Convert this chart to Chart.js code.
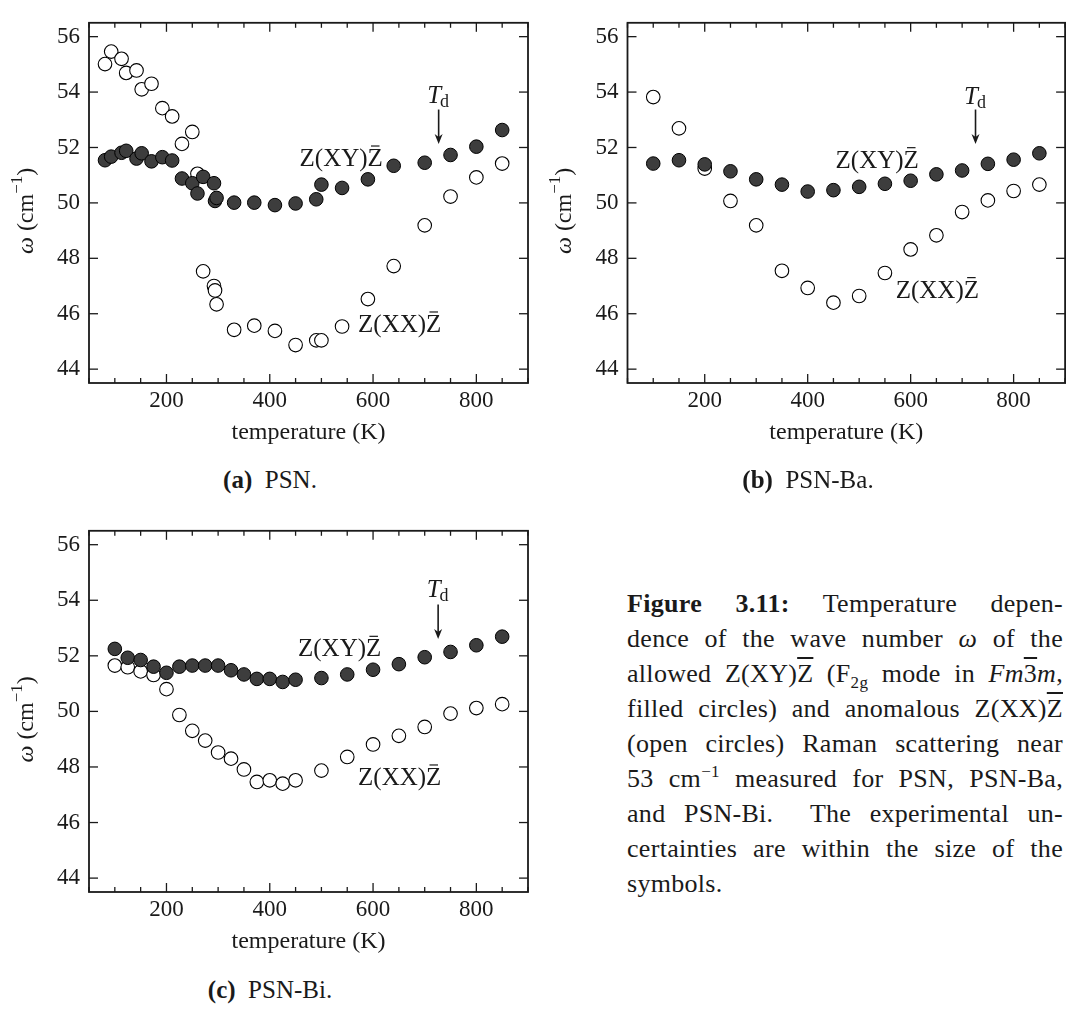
<!DOCTYPE html>
<html>
<head>
<meta charset="utf-8">
<script src="https://cdn.jsdelivr.net/npm/chart.js@4.4.1/dist/chart.umd.min.js"></script>
<style>
  html, body { margin: 0; padding: 0; background: #fff; }
  body { width: 1073px; height: 1009px; position: relative; overflow: hidden; font-family: "Liberation Serif", serif; color: #1a1a1a; }
  canvas { position: absolute; }
  .sub { position: absolute; width: 540px; text-align: center; font-size: 25px; line-height: 30px; }
  #caption { position: absolute; left: 627px; top: 586px; width: 436px; font-size: 26px; letter-spacing: 0.3px; }
  #caption .ln { height: 35px; line-height: 35px; text-align: justify; text-align-last: justify; white-space: nowrap; }
  #caption .last { text-align-last: left; }
  .ov { text-decoration: overline; }
  sub, sup { font-size: 17px; line-height: 0; }
</style>
</head>
<body>
<canvas id="chartA" width="540" height="465" style="left:0;top:0;width:540px;height:465px"></canvas>
<canvas id="chartB" width="535" height="465" style="left:538px;top:0;width:535px;height:465px"></canvas>
<canvas id="chartC" width="540" height="466" style="left:0;top:508px;width:540px;height:466px"></canvas>

<div class="sub" style="left:0;top:465px"><b>(a)</b>&nbsp; PSN.</div>
<div class="sub" style="left:538px;top:465px"><b>(b)</b>&nbsp; PSN-Ba.</div>
<div class="sub" style="left:0;top:975px"><b>(c)</b>&nbsp; PSN-Bi.</div>

<div id="caption">
  <div class="ln"><b>Figure 3.11:</b> Temperature depen-</div>
  <div class="ln">dence of the wave number <i>ω</i> of the</div>
  <div class="ln">allowed Z(XY)<span class="ov">Z</span> (F<sub>2g</sub> mode in <i>Fm</i><span class="ov">3</span><i>m</i>,</div>
  <div class="ln">filled circles) and anomalous Z(XX)<span class="ov">Z</span></div>
  <div class="ln">(open circles) Raman scattering near</div>
  <div class="ln">53 cm<sup>−1</sup> measured for PSN, PSN-Ba,</div>
  <div class="ln">and PSN-Bi.&nbsp; The experimental un-</div>
  <div class="ln">certainties are within the size of the</div>
  <div class="ln last">symbols.</div>
</div>

<script>
const xTicks = [200, 400, 600, 800];
const yTicks = [44, 46, 48, 50, 52, 54, 56];

// (a) PSN
const tempA = [81, 93, 113, 122, 142, 152, 171, 192, 211, 230, 250, 260, 271, 292, 294, 297, 331, 370, 410, 450, 490, 500, 540, 590, 640, 700, 750, 800, 850];
const xyA = [51.54, 51.67, 51.81, 51.88, 51.60, 51.79, 51.50, 51.65, 51.53, 50.88, 50.71, 50.34, 50.94, 50.71, 50.07, 50.18, 50.01, 50.01, 49.92, 49.98, 50.13, 50.66, 50.54, 50.85, 51.34, 51.45, 51.73, 52.03, 52.63];
const xxA = [55.01, 55.46, 55.20, 54.69, 54.78, 54.10, 54.30, 53.42, 53.12, 52.13, 52.56, 51.05, 47.53, 47.00, 46.84, 46.34, 45.42, 45.57, 45.38, 44.87, 45.04, 45.04, 45.54, 46.53, 47.72, 49.19, 50.23, 50.92, 51.42];

// (b) PSN-Ba
const tempB = [100, 150, 200, 250, 300, 350, 400, 450, 500, 550, 600, 650, 700, 750, 800, 850];
const xyB = [51.42, 51.54, 51.39, 51.14, 50.85, 50.66, 50.41, 50.46, 50.58, 50.69, 50.80, 51.03, 51.17, 51.41, 51.56, 51.79];
const xxB = [53.82, 52.69, 51.24, 50.07, 49.19, 47.55, 46.93, 46.40, 46.64, 47.47, 48.32, 48.83, 49.67, 50.09, 50.43, 50.66];

// (c) PSN-Bi
const tempC = [100, 125, 150, 175, 200, 225, 250, 275, 300, 325, 350, 375, 400, 425, 450, 500, 550, 600, 650, 700, 750, 800, 850];
const xyC = [52.25, 51.93, 51.85, 51.61, 51.39, 51.61, 51.65, 51.65, 51.65, 51.48, 51.33, 51.17, 51.17, 51.06, 51.14, 51.20, 51.33, 51.50, 51.70, 51.95, 52.14, 52.38, 52.69];
const xxC = [51.65, 51.59, 51.44, 51.31, 50.80, 49.87, 49.30, 48.95, 48.52, 48.30, 47.91, 47.46, 47.52, 47.40, 47.52, 47.87, 48.36, 48.81, 49.12, 49.44, 49.92, 50.12, 50.26];

const INK = '#1a1a1a';
const SERIF = '"Liberation Serif", serif';

function line(ctx, x1, y1, x2, y2) {
  ctx.beginPath();
  ctx.moveTo(x1, y1);
  ctx.lineTo(x2, y2);
  ctx.stroke();
}

// text with a short bar over the last Z
function drawZLabel(ctx, inner, px, py, align) {
  ctx.font = '25px ' + SERIF;
  const head = 'Z(' + inner + ')';
  const w1 = ctx.measureText(head).width;
  const wz = ctx.measureText('Z').width;
  const x0 = align === 'right' ? px - w1 - wz : px;
  const base = py + 8;
  ctx.textAlign = 'left';
  ctx.textBaseline = 'alphabetic';
  ctx.fillText(head + 'Z', x0, base);
  ctx.lineWidth = 1.2;
  line(ctx, x0 + w1 + wz * 0.22, base - 20, x0 + w1 + wz * 0.78, base - 20);
}

const decor = {
  id: 'decor',
  afterDatasetsDraw(chart, args, opts) {
    const { ctx, chartArea: a, scales: { x, y } } = chart;
    ctx.save();
    ctx.strokeStyle = INK;
    ctx.fillStyle = INK;

    // inward ticks on all four sides
    ctx.lineWidth = 1.3;
    x.ticks.forEach(t => {
      const px = x.getPixelForValue(t.value);
      const len = xTicks.includes(t.value) ? 9 : 5;
      line(ctx, px, a.bottom, px, a.bottom - len);
      line(ctx, px, a.top, px, a.top + len);
    });
    y.ticks.forEach(t => {
      const py = y.getPixelForValue(t.value);
      const len = yTicks.includes(t.value) ? 9 : 5;
      line(ctx, a.left, py, a.left + len, py);
      line(ctx, a.right, py, a.right - len, py);
    });
    ctx.lineWidth = 1.8;
    ctx.strokeRect(a.left, a.top, a.right - a.left, a.bottom - a.top);

    // series labels
    drawZLabel(ctx, 'XY', x.getPixelForValue(opts.xy[0]), y.getPixelForValue(opts.xy[1]), 'right');
    drawZLabel(ctx, 'XX', x.getPixelForValue(opts.xx[0]), y.getPixelForValue(opts.xx[1]), 'left');

    // T_d marker
    const tx = x.getPixelForValue(opts.td[0]);
    const ty = y.getPixelForValue(opts.td[1]);
    ctx.font = 'italic 25px ' + SERIF;
    const wT = ctx.measureText('T').width;
    ctx.font = '18px ' + SERIF;
    const wd = ctx.measureText('d').width;
    const sx = tx - (wT + wd) / 2;
    ctx.textAlign = 'left';
    ctx.textBaseline = 'alphabetic';
    ctx.font = 'italic 25px ' + SERIF;
    ctx.fillText('T', sx, ty + 8);
    ctx.font = '18px ' + SERIF;
    ctx.fillText('d', sx + wT - 1, ty + 12);
    const ay1 = y.getPixelForValue(opts.td[2]);
    const ay2 = y.getPixelForValue(opts.td[3]);
    ctx.lineWidth = 1.6;
    line(ctx, tx, ay1, tx, ay2 - 4);
    ctx.beginPath();
    ctx.moveTo(tx, ay2);
    ctx.lineTo(tx - 4, ay2 - 10);
    ctx.lineTo(tx, ay2 - 7);
    ctx.lineTo(tx + 4, ay2 - 10);
    ctx.closePath();
    ctx.fill();

    // y axis title: omega (cm^-1), rotated
    const cy = (a.top + a.bottom) / 2 + 8;
    const parts = [
      { t: 'ω', f: 'italic 24px ' + SERIF, dy: 0 },
      { t: ' (cm', f: '24px ' + SERIF, dy: 0 },
      { t: '−1', f: '17px ' + SERIF, dy: -9 },
      { t: ')', f: '24px ' + SERIF, dy: 0 },
    ];
    let total = 0;
    parts.forEach(p => { ctx.font = p.f; p.w = ctx.measureText(p.t).width; total += p.w; });
    ctx.translate(27, cy);
    ctx.rotate(-Math.PI / 2);
    ctx.textBaseline = 'middle';
    let cx = -total / 2;
    parts.forEach(p => {
      ctx.font = p.f;
      ctx.fillText(p.t, cx, p.dy);
      cx += p.w;
    });
    ctx.restore();
  }
};

function makePanel(id, temps, xy, xx, pad, ann) {
  return new Chart(document.getElementById(id), {
    type: 'scatter',
    data: {
      datasets: [
        {
          label: 'Z(XY)Z',
          data: temps.map((t, i) => ({ x: t, y: xy[i] })),
          backgroundColor: '#3d3d3d',
          borderColor: '#000',
          borderWidth: 1,
          pointRadius: 6.8,
        },
        {
          label: 'Z(XX)Z',
          data: temps.map((t, i) => ({ x: t, y: xx[i] })),
          backgroundColor: '#fff',
          borderColor: '#000',
          borderWidth: 1.1,
          pointRadius: 6.8,
        },
      ],
    },
    options: {
      responsive: false,
      animation: false,
      events: [],
      layout: { padding: pad },
      plugins: {
        legend: { display: false },
        tooltip: { enabled: false },
        decor: ann,
      },
      scales: {
        x: {
          type: 'linear',
          min: 50,
          max: 900,
          grid: { display: false, drawTicks: false },
          border: { display: false },
          afterBuildTicks: axis => {
            const vals = [];
            for (let v = 50; v <= 900; v += 50) vals.push({ value: v });
            axis.ticks = vals;
          },
          afterFit: axis => { axis.height = 82; },
          ticks: {
            autoSkip: false,
            maxRotation: 0,
            padding: 4,
            color: INK,
            font: { family: SERIF, size: 23, lineHeight: 1.2 },
            callback: v => (xTicks.includes(v) ? String(v) : ''),
          },
          title: {
            display: true,
            text: 'temperature (K)',
            color: INK,
            font: { family: SERIF, size: 24, lineHeight: 1.2 },
            padding: { top: 0, bottom: 17.6 },
          },
        },
        y: {
          type: 'linear',
          min: 43.5,
          max: 56.5,
          grid: { display: false, drawTicks: false },
          border: { display: false },
          afterBuildTicks: axis => {
            const vals = [];
            for (let v = 44; v <= 56; v += 1) vals.push({ value: v });
            axis.ticks = vals;
          },
          afterFit: axis => { axis.width = pad.yw; },
          ticks: {
            padding: 9,
            color: INK,
            font: { family: SERIF, size: 23, lineHeight: 1.2 },
            callback: v => (yTicks.includes(v) ? String(v) : ''),
          },
        },
      },
    },
    plugins: [decor],
  });
}

makePanel('chartA', tempA, xyA, xxA,
  { top: 1, right: 12, bottom: 0, left: 0, yw: 89 },
  { xy: [619, 51.62], xx: [571, 45.63], td: [727, 53.9, 53.37, 52.13] });

makePanel('chartB', tempB, xyB, xxB,
  { top: 1, right: 6.5, bottom: 0, left: 0, yw: 89.5 },
  { xy: [616, 51.56], xx: [571, 46.87], td: [726, 53.85, 53.37, 52.13] });

makePanel('chartC', tempC, xyC, xxC,
  { top: 0.5, right: 12, bottom: 0, left: 0, yw: 89 },
  { xy: [616, 52.27], xx: [571, 47.64], td: [726, 54.4, 53.85, 52.61] });
</script>
</body>
</html>
